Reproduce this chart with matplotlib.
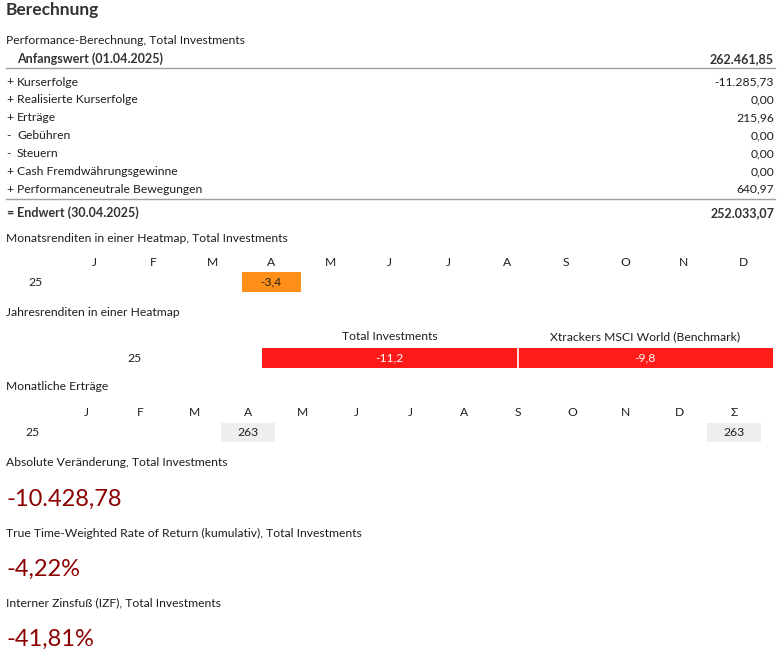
import numpy as np
import matplotlib
matplotlib.use('Agg')
import matplotlib.pyplot as plt
from matplotlib.colors import LinearSegmentedColormap, ListedColormap, Normalize

plt.rcParams['font.family'] = ['Lato', 'DejaVu Sans']

# Performance table
start_label = 'Anfangswert (01.04.2025)'
start_value = 262461.85
item_signs = ['+', '+', '+', '-', '-', '+', '+']
item_labels = ['Kurserfolge', 'Realisierte Kurserfolge', 'Erträge', 'Gebühren',
               'Steuern', 'Cash Fremdwährungsgewinne', 'Performanceneutrale Bewegungen']
item_values = [-11285.73, 0.00, 215.96, 0.00, 0.00, 0.00, 640.97]
end_label = 'Endwert (30.04.2025)'
end_value = 252033.07

# Monthly returns heatmap
month_letters = ['J', 'F', 'M', 'A', 'M', 'J', 'J', 'A', 'S', 'O', 'N', 'D']
year_label = '25'
monthly_returns = [np.nan, np.nan, np.nan, -3.4, np.nan, np.nan,
                   np.nan, np.nan, np.nan, np.nan, np.nan, np.nan]

# Yearly returns heatmap
yearly_names = ['Total Investments', 'Xtrackers MSCI World (Benchmark)']
yearly_returns = [-11.2, -9.8]

# Monthly income
income_cols = month_letters + ['Σ']
monthly_income = [np.nan, np.nan, np.nan, 263, np.nan, np.nan,
                  np.nan, np.nan, np.nan, np.nan, np.nan, np.nan, 263]

# Key figures
kpi_titles = ['Absolute Veränderung, Total Investments',
              'True Time-Weighted Rate of Return (kumulativ), Total Investments',
              'Interner Zinsfuß (IZF), Total Investments']
kpi_values = [-10428.78, -4.22, -41.81]
kpi_suffix = ['', '%', '%']

W, H = 780, 661
TXT = '#1e1e1e'
BOLD = '#333333'
FS = 8.7


def fmt_de(v, dec=2):
    s = f'{v:,.{dec}f}'
    return s.replace(',', '_').replace('.', ',').replace('_', '.')


ret_cmap = LinearSegmentedColormap.from_list(
    'ret', [(0.0, '#ff1a1a'), (0.33, '#ff9019'), (0.5, '#ffe066'), (1.0, '#2eaa3c')])
ret_norm = Normalize(-10, 10)

fig = plt.figure(figsize=(W / 100, H / 100), dpi=100)
bg = fig.add_axes([0, 0, 1, 1])
bg.set_xlim(0, W)
bg.set_ylim(H, 0)
bg.axis('off')


def sub_axes(left, top, width, height):
    return fig.add_axes([left / W, 1 - (top + height) / H, width / W, height / H])


def txt(ax, x, y, s, **kw):
    kw.setdefault('fontsize', FS)
    kw.setdefault('color', TXT)
    kw.setdefault('va', 'center_baseline')
    return ax.text(x, y, s, **kw)


def bold(ax, x, y, s, **kw):
    return txt(ax, x, y, s, fontsize=9, fontweight='bold', color=BOLD, **kw)


# --- Berechnung block
txt(bg, 6, 8, 'Berechnung', fontsize=12.5, fontweight='bold', color=BOLD)
txt(bg, 6, 40, 'Performance-Berechnung, Total Investments')
bold(bg, 17, 58, start_label)
bold(bg, 774, 58, fmt_de(start_value), ha='right')
bg.plot([6, 775], [68, 68], color='#a0a0a0', lw=1)
row_step = 17.9
for i, (sg, lab, val) in enumerate(zip(item_signs, item_labels, item_values)):
    y = 81 + i * row_step
    txt(bg, 6, y, sg)
    txt(bg, 17, y, lab)
    txt(bg, 774, y, fmt_de(val), ha='right')
bg.plot([6, 775], [199, 199], color='#a0a0a0', lw=1)
bold(bg, 6, 212, '=')
bold(bg, 17, 212, end_label)
bold(bg, 774, 212, fmt_de(end_value), ha='right')

# --- Monthly returns heatmap
txt(bg, 6, 237, 'Monatsrenditen in einer Heatmap, Total Investments')
ax1 = sub_axes(64.5, 272, 708, 20)
arr = np.ma.masked_invalid(np.array(monthly_returns, dtype=float)[None, :])
ax1.imshow(arr, cmap=ret_cmap, norm=ret_norm, aspect='auto',
           extent=(-0.5, len(month_letters) - 0.5, 0.5, -0.5), interpolation='nearest')
ax1.set_xlim(-0.5, len(month_letters) - 0.5)
ax1.set_ylim(0.5, -0.5)
ax1.axis('off')
for i, m in enumerate(month_letters):
    txt(ax1, i, -1.05, m, ha='center', clip_on=False)
    if not np.isnan(monthly_returns[i]):
        txt(ax1, i, -0.05, fmt_de(monthly_returns[i], 1), ha='center')
txt(ax1, -1.0, -0.05, year_label, ha='center', clip_on=False)

# --- Yearly returns heatmap
txt(bg, 6, 312, 'Jahresrenditen in einer Heatmap')
ax2 = sub_axes(262, 348, 511, 20)
ax2.imshow(np.array(yearly_returns)[None, :], cmap=ret_cmap, norm=ret_norm, aspect='auto',
           extent=(-0.5, len(yearly_returns) - 0.5, 0.5, -0.5), interpolation='nearest')
ax2.set_xlim(-0.5, len(yearly_returns) - 0.5)
ax2.set_ylim(0.5, -0.5)
ax2.axis('off')
for i, (nm, v) in enumerate(zip(yearly_names, yearly_returns)):
    txt(ax2, i, -1.1, nm, ha='center', clip_on=False)
    txt(ax2, i, -0.05, fmt_de(v, 1), color='white', ha='center')
for i in range(1, len(yearly_returns)):
    ax2.axvline(i - 0.5, color='white', lw=1.2)
txt(ax2, -1.0, -0.05, year_label, ha='center', clip_on=False)

# --- Monthly income
txt(bg, 6, 386, 'Monatliche Erträge')
ax3 = sub_axes(59, 423, 702, 19.5)
arr3 = np.ma.masked_invalid(np.array(monthly_income, dtype=float)[None, :])
ax3.imshow(arr3, cmap=ListedColormap(['#eeeeee']), aspect='auto',
           extent=(-0.5, len(income_cols) - 0.5, 0.5, -0.5), interpolation='nearest')
ax3.set_xlim(-0.5, len(income_cols) - 0.5)
ax3.set_ylim(0.5, -0.5)
ax3.axis('off')
for i, c in enumerate(income_cols):
    txt(ax3, i, -1.1, c, ha='center', clip_on=False)
    if not np.isnan(monthly_income[i]):
        txt(ax3, i, -0.05, fmt_de(monthly_income[i], 0), ha='center')
txt(ax3, -1.0, -0.05, year_label, ha='center', clip_on=False)

# --- Key figures
for k, (t, v, suf) in enumerate(zip(kpi_titles, kpi_values, kpi_suffix)):
    y0 = 462 + k * 70
    txt(bg, 6, y0, t)
    txt(bg, 7, y0 + 35, fmt_de(v) + suf, fontsize=17, color='#8b0000')

fig.savefig('out.png', dpi=100)
